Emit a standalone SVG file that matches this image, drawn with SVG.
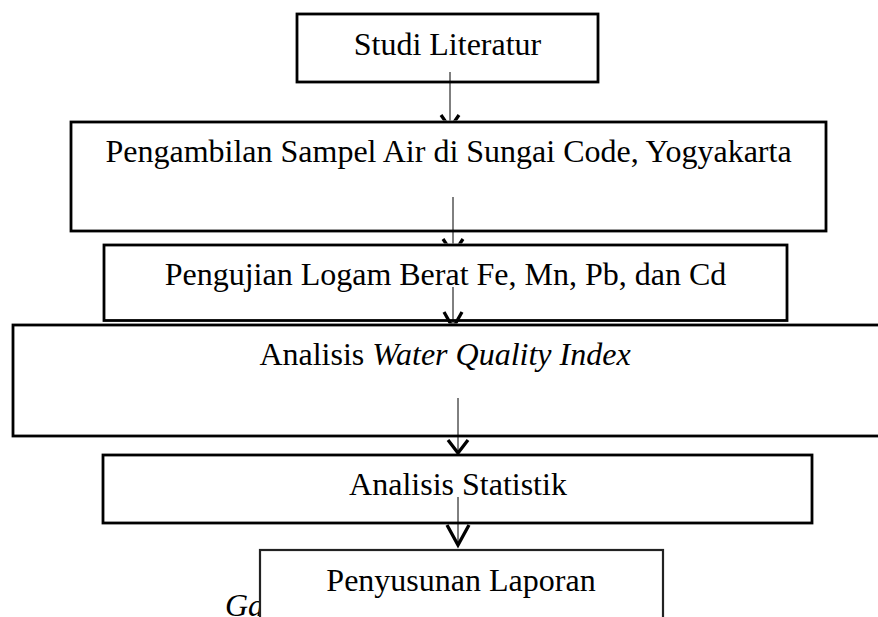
<svg xmlns="http://www.w3.org/2000/svg" width="878" height="617" viewBox="0 0 878 617">
<style>
.box{fill:#fff;stroke:#000;stroke-width:2.8}
.t{font-family:"Liberation Serif","Times New Roman",serif;font-size:32px;fill:#000;text-anchor:middle}
.i{font-style:italic}
.ln{stroke:#000;stroke-width:1;fill:none}
.hd{stroke:#000;stroke-width:3.3;fill:none;stroke-linejoin:miter}
</style>
<defs>
<clipPath id="k1"><rect x="0" y="0" width="878" height="120.5"/></clipPath>
<clipPath id="k2"><rect x="0" y="0" width="878" height="243.5"/></clipPath>
<clipPath id="k3"><rect x="0" y="0" width="878" height="323.5"/></clipPath>
<clipPath id="k4"><rect x="0" y="0" width="878" height="454"/></clipPath>
<clipPath id="k5"><rect x="0" y="0" width="878" height="549"/></clipPath>
</defs>
<text class="t i" x="225" y="616" style="text-anchor:start">Ga</text>
<g id="n1"><rect class="box" x="297" y="14" width="301" height="68"/><text class="t" x="447.5" y="55">Studi Literatur</text></g>
<g id="n2"><rect class="box" x="71" y="122" width="755" height="109"/><text class="t" x="448.5" y="162">Pengambilan Sampel Air di Sungai Code, Yogyakarta</text></g>
<g id="n3"><rect class="box" x="104" y="245" width="683" height="75.5"/><text class="t" x="445.5" y="285">Pengujian Logam Berat Fe, Mn, Pb, dan Cd</text></g>
<g id="n4"><rect class="box" x="13" y="325" width="900" height="111"/><text class="t" x="445" y="365">Analisis <tspan class="i">Water Quality Index</tspan></text></g>
<g id="n5"><rect class="box" x="103" y="455" width="709" height="68"/><text class="t" x="458" y="495">Analisis Statistik</text></g>
<g id="n6"><rect class="box" x="260" y="550" width="403" height="90" style="stroke:#222;stroke-width:2.2"/><text class="t" x="461" y="591">Penyusunan Laporan</text></g>
<g id="connectors">
<g clip-path="url(#k1)"><line class="ln" x1="450" y1="72" x2="450" y2="127"/><polyline class="hd" points="441,115 450,128 459,115"/></g>
<g clip-path="url(#k2)"><line class="ln" x1="453" y1="197" x2="453" y2="253"/><polyline class="hd" points="443,239 453,254 463,239"/></g>
<g clip-path="url(#k3)"><line class="ln" x1="453" y1="287" x2="453" y2="327"/><polyline class="hd" points="444,312 453,328 462,312"/></g>
<g clip-path="url(#k4)"><line class="ln" x1="458" y1="398" x2="458" y2="452"/><polyline class="hd" points="448,440 458,453 468,440"/></g>
<g clip-path="url(#k5)"><line class="ln" x1="458" y1="497" x2="458" y2="544"/><polyline class="hd" points="447,525 458,545 469,525"/></g>
</g>
</svg>
